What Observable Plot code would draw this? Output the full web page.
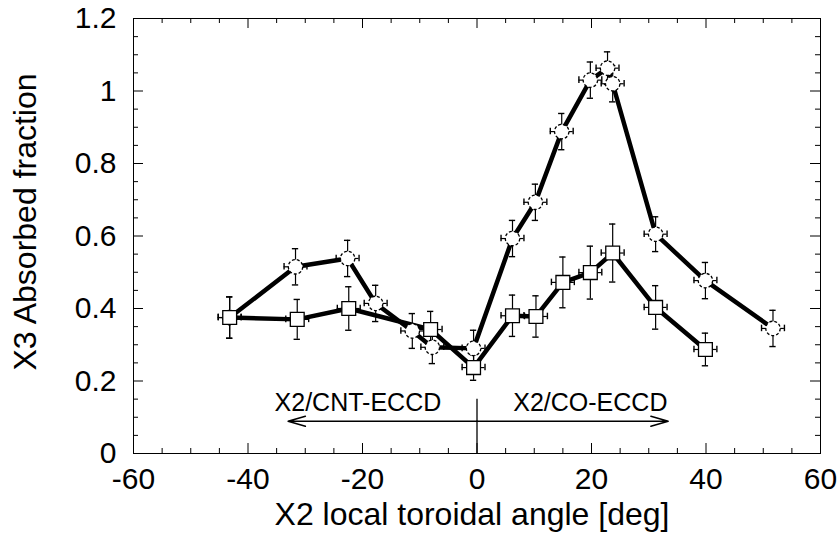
<!DOCTYPE html>
<html>
<head>
<meta charset="utf-8">
<script src="https://cdn.jsdelivr.net/npm/d3@7"></script>
<script src="https://cdn.jsdelivr.net/npm/@observablehq/plot@0.6"></script>
<style>
  html, body { margin: 0; padding: 0; background: #fff; }
</style>
</head>
<body>
<div id="chart"></div>
<script>
// Circle series (dashed open circles); starts at the shared point at -43.2
const circX = [-43.2, -31.7, -22.6, -17.7, -11.3, -7.8, -0.6, 6.2, 10.2, 14.8, 19.8, 22.8, 23.7, 31.2, 39.9, 51.7];
const circY = [0.375, 0.515, 0.538, 0.414, 0.338, 0.293, 0.290, 0.593, 0.693, 0.888, 1.030, 1.063, 1.020, 0.605, 0.477, 0.345];
const circErr = [0.057, 0.05, 0.05, 0.05, 0.048, 0.045, 0.05, 0.05, 0.05, 0.05, 0.05, 0.045, 0.05, 0.048, 0.05, 0.05];

// Square series (open squares)
const sqX = [-43.2, -31.4, -22.4, -8.1, -0.6, 6.2, 10.3, 15.0, 19.8, 23.7, 31.2, 39.9];
const sqY = [0.375, 0.370, 0.400, 0.342, 0.237, 0.380, 0.378, 0.472, 0.499, 0.553, 0.403, 0.287];
const sqErr = [0.057, 0.055, 0.06, 0.05, 0.035, 0.057, 0.057, 0.07, 0.073, 0.08, 0.06, 0.045];

const xErr = 2.0;

// Axes
const xTicks = [-60, -40, -20, 0, 20, 40, 60];
const xTickLabels = ["-60", "-40", "-20", "0", "20", "40", "60"];
const xMinor = [-55, -50, -45, -35, -30, -25, -15, -10, -5, 5, 10, 15, 25, 30, 35, 45, 50, 55];
const yTicks = [0, 0.2, 0.4, 0.6, 0.8, 1, 1.2];
const yTickLabels = ["0", "0.2", "0.4", "0.6", "0.8", "1", "1.2"];
const yMinor = [0.05, 0.1, 0.15, 0.25, 0.3, 0.35, 0.45, 0.5, 0.55, 0.65, 0.7, 0.75, 0.85, 0.9, 0.95, 1.05, 1.1, 1.15];

const xLabel = "X2 local toroidal angle [deg]";
const yLabel = "X3 Absorbed fraction";

// Annotation
const annotY = 0.089;
const cntArrow = {x1: 0, x2: -33, text: "X2/CNT-ECCD", tx: -20.8};
const coArrow = {x1: 0, x2: 33.4, text: "X2/CO-ECCD", tx: 19.8};
const textY = 0.118;
const dividerTop = 0.15;

const circles = circX.map((x, i) => ({x, y: circY[i], e: circErr[i]}));
const squares = sqX.map((x, i) => ({x, y: sqY[i], e: sqErr[i]}));
const all = circles.concat(squares);

const W = 838, H = 535;
const mL = 133, mR = 18, mT = 18, mB = 82;
const innerH = H - mT - mB;
const innerW = W - mL - mR;
const font = "'Liberation Sans', Arial, Helvetica, sans-serif";

const chart = Plot.plot({
  width: W,
  height: H,
  marginLeft: mL,
  marginRight: mR,
  marginTop: mT,
  marginBottom: mB,
  style: {fontFamily: font, background: "#fff", color: "#000"},
  x: {domain: [-60, 60]},
  y: {domain: [0, 1.2]},
  marks: [
    Plot.frame({stroke: "#000", strokeWidth: 1}),
    // inward ticks, bottom & top
    Plot.tickX(xTicks, {x: d => d, insetTop: innerH - 10, stroke: "#000"}),
    Plot.tickX(xTicks, {x: d => d, insetBottom: innerH - 10, stroke: "#000"}),
    Plot.tickX(xMinor, {x: d => d, insetTop: innerH - 5, stroke: "#000"}),
    Plot.tickX(xMinor, {x: d => d, insetBottom: innerH - 5, stroke: "#000"}),
    // inward ticks, left & right
    Plot.tickY(yTicks, {y: d => d, insetRight: innerW - 10, stroke: "#000"}),
    Plot.tickY(yTicks, {y: d => d, insetLeft: innerW - 10, stroke: "#000"}),
    Plot.tickY(yMinor, {y: d => d, insetRight: innerW - 5, stroke: "#000"}),
    Plot.tickY(yMinor, {y: d => d, insetLeft: innerW - 5, stroke: "#000"}),
    Plot.axisX({ticks: xTicks, tickFormat: d => xTickLabels[xTicks.indexOf(d)], tickSize: 0, tickPadding: 14,
      fontSize: 30, label: null}),
    Plot.axisY({ticks: yTicks, tickFormat: d => yTickLabels[yTicks.indexOf(d)], tickSize: 0, tickPadding: 17,
      fontSize: 30, label: null}),
    // axis titles
    Plot.text([xLabel], {text: d => d, frameAnchor: "bottom", dx: -5, dy: 61, fontSize: 32, lineAnchor: "middle", fill: "#000"}),
    Plot.text([yLabel], {text: d => d, frameAnchor: "left", rotate: -90, dx: -108, dy: -14, fontSize: 32, textAnchor: "middle", lineAnchor: "middle", fill: "#000"}),
    // annotation
    Plot.arrow([cntArrow, coArrow], {x1: "x1", x2: "x2", y1: annotY, y2: annotY, stroke: "#000", strokeWidth: 1.5, headLength: 18, headAngle: 32, bend: 0}),
    Plot.ruleX([0], {y1: 0, y2: dividerTop, stroke: "#000", strokeWidth: 1.3}),
    Plot.text([cntArrow, coArrow], {x: "tx", y: textY, text: "text", fontSize: 25, lineAnchor: "bottom", fill: "#000"}),
    // connecting lines
    Plot.line(squares, {x: "x", y: "y", stroke: "#000", strokeWidth: 4.5}),
    Plot.line(circles, {x: "x", y: "y", stroke: "#000", strokeWidth: 4.5}),
    // vertical error bars + caps
    Plot.ruleX(all, {x: "x", y1: d => d.y - d.e, y2: d => d.y + d.e, stroke: "#000", strokeWidth: 1.2}),
    Plot.ruleY(all, {y: d => d.y - d.e, x1: d => d.x - 0.55, x2: d => d.x + 0.55, stroke: "#000", strokeWidth: 1.4}),
    Plot.ruleY(all, {y: d => d.y + d.e, x1: d => d.x - 0.55, x2: d => d.x + 0.55, stroke: "#000", strokeWidth: 1.4}),
    // horizontal error bars + caps
    Plot.ruleY(all, {y: "y", x1: d => d.x - xErr, x2: d => d.x + xErr, stroke: "#000", strokeWidth: 1.2}),
    Plot.ruleX(all, {x: d => d.x - xErr, y1: d => d.y - 0.009, y2: d => d.y + 0.009, stroke: "#000", strokeWidth: 1.4}),
    Plot.ruleX(all, {x: d => d.x + xErr, y1: d => d.y - 0.009, y2: d => d.y + 0.009, stroke: "#000", strokeWidth: 1.4}),
    // markers (circles first so the shared start point shows as a square)
    Plot.dot(circles, {x: "x", y: "y", symbol: "circle", r: 7.2, fill: "#fff", stroke: "#000", strokeWidth: 1.3, strokeDasharray: "3,2"}),
    Plot.dot(squares, {x: "x", y: "y", symbol: "square", r: 7.8, fill: "#fff", stroke: "#000", strokeWidth: 1.3})
  ]
});
document.getElementById("chart").appendChild(chart);
</script>
</body>
</html>
